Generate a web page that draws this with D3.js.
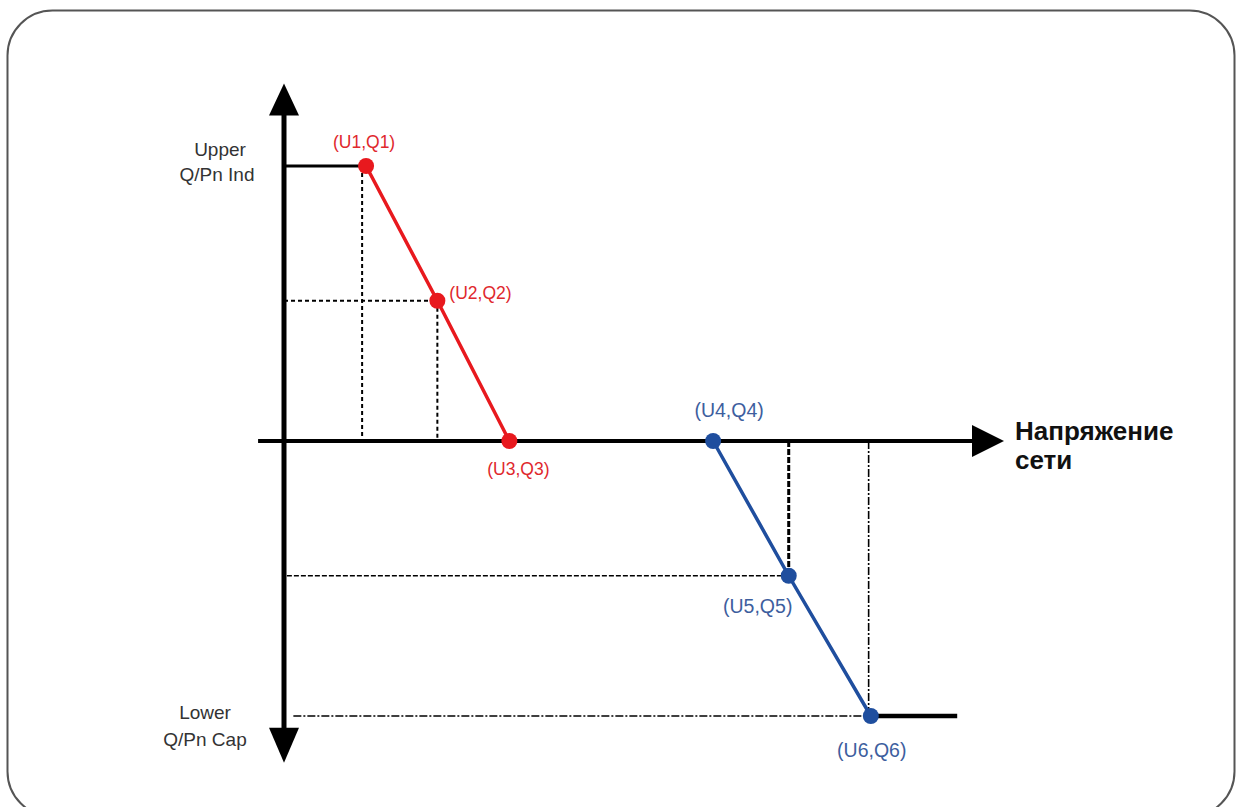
<!DOCTYPE html>
<html>
<head>
<meta charset="utf-8">
<script src="https://cdn.jsdelivr.net/npm/d3@7"></script>
<style>
  body { margin: 0; background: #fff; }
  svg { display: block; font-family: "Liberation Sans", Arial, sans-serif; }
</style>
</head>
<body>
<script>
'use strict';

// curve points: U in % of axis length, Q as fraction of Q/Pn limit
const redLabels = ['(U1,Q1)', '(U2,Q2)', '(U3,Q3)']
const redU = [11.4, 21.3, 31.3]
const redQ = [1, 0.51, 0]

const blueLabels = ['(U4,Q4)', '(U5,Q5)', '(U6,Q6)']
const blueU = [59.6, 70.1, 81.5]
const blueQ = [0, -0.49, -1]

const yLabelsTop = ['Upper', 'Q/Pn Ind']
const yLabelsBottom = ['Lower', 'Q/Pn Cap']
const xTitle = ['Напряжение', 'сети']

// axis extents in data units
const xAxisExtent = [-3.6, 100]
const yAxisExtent = [-1.17, 1.3]
const lowerLineEnd = 93.5

const m = { width: 1245, height: 807 }

const svg = d3.select('body')
  .append('svg')
  .attr('width', m.width)
  .attr('height', m.height)

// rounded frame
svg.append('rect')
  .attr('x', 7.5).attr('y', 10.5)
  .attr('width', 1227).attr('height', 806)
  .attr('rx', 45).attr('ry', 45)
  .style('fill', 'none')
  .style('stroke', '#555')
  .style('stroke-width', 2)

const x = d3.scaleLinear().domain([0, 100]).range([284, 1004])
const y = d3.scaleLinear().domain([-1, 1]).range([716, 166])

const red = '#e8191e'
const blue = '#1f4e9e'

const redPts = redU.map((u, i) => ({ u: u, q: redQ[i], label: redLabels[i] }))
const bluePts = blueU.map((u, i) => ({ u: u, q: blueQ[i], label: blueLabels[i] }))

// helper lines (dashed)
function seg(x1, y1, x2, y2, width, dash) {
  svg.append('line')
    .attr('x1', x(x1)).attr('y1', y(y1))
    .attr('x2', x(x2)).attr('y2', y(y2))
    .style('stroke', '#000')
    .style('stroke-width', width)
    .style('stroke-dasharray', dash)
}

seg(redU[0] - 0.55, redQ[0], redU[0] - 0.55, 0, 2, '4,3')
seg(0, redQ[1], redU[1], redQ[1], 2, '4,3')
seg(redU[1], redQ[1], redU[1], 0, 2, '4,3')
seg(blueU[1], 0, blueU[1], blueQ[1], 3, '6,2')
seg(0.4, blueQ[1], blueU[1], blueQ[1], 1.3, '5,2')
seg(blueU[2] - 0.3, 0, blueU[2] - 0.3, blueQ[2], 1.6, '8,2,2,2')
seg(1.3, blueQ[2], blueU[2], blueQ[2], 1.6, '8,2,2,2')

// horizontal limit lines
seg(0, redQ[0], redU[0], redQ[0], 3, null)
seg(blueU[2], blueQ[2], lowerLineEnd, blueQ[2], 4.5, null)

// axes
seg(xAxisExtent[0], 0, xAxisExtent[1] - 4, 0, 4, null)
svg.append('line')
  .attr('x1', x(0)).attr('y1', y(yAxisExtent[1]) + 30)
  .attr('x2', x(0)).attr('y2', y(yAxisExtent[0]) - 30)
  .style('stroke', '#000').style('stroke-width', 5)

const ax = x(0)
const yTop = y(yAxisExtent[1])
const yBot = y(yAxisExtent[0])
const xEnd = x(xAxisExtent[1])
const y0 = y(0)
svg.append('path')
  .attr('d', `M${ax},${yTop} L${ax - 15},${yTop + 32} L${ax + 15},${yTop + 32} Z`)
  .style('fill', '#000')
svg.append('path')
  .attr('d', `M${ax},${yBot} L${ax - 15},${yBot - 35} L${ax + 15},${yBot - 35} Z`)
  .style('fill', '#000')
svg.append('path')
  .attr('d', `M${xEnd},${y0} L${xEnd - 32},${y0 - 16} L${xEnd - 32},${y0 + 16} Z`)
  .style('fill', '#000')

// curves
const line = d3.line().x((d) => x(d.u)).y((d) => y(d.q))

function drawCurve(pts, color) {
  svg.append('path')
    .datum(pts)
    .attr('d', line)
    .style('fill', 'none')
    .style('stroke', color)
    .style('stroke-width', 3.5)
  svg.selectAll(null)
    .data(pts)
    .enter()
    .append('circle')
      .attr('cx', (d) => x(d.u))
      .attr('cy', (d) => y(d.q))
      .attr('r', 8)
      .style('fill', color)
}
drawCurve(redPts, red)
drawCurve(bluePts, blue)

// point labels (offsets in px from the point)
const redOffsets = [[-2, -18, 'middle'], [12, -2, 'start'], [9, 34, 'middle']]
const blueOffsets = [[16, -24, 'middle'], [-31, 37, 'middle'], [1, 41, 'middle']]

function drawLabels(pts, offsets, color, size) {
  svg.selectAll(null)
    .data(pts)
    .enter()
    .append('text')
      .attr('x', (d, i) => x(d.u) + offsets[i][0])
      .attr('y', (d, i) => y(d.q) + offsets[i][1])
      .attr('text-anchor', (d, i) => offsets[i][2])
      .style('font-size', size)
      .style('fill', color)
      .text((d) => d.label)
}
drawLabels(redPts, redOffsets, '#e0282d', '17.5px')
drawLabels(bluePts, blueOffsets, '#3d5e9e', '19.5px')

// y-axis labels
svg.selectAll(null)
  .data(yLabelsTop)
  .enter()
  .append('text')
    .attr('x', (d, i) => i == 0 ? 220 : 217)
    .attr('y', (d, i) => 156 + i * 25)
    .attr('text-anchor', 'middle')
    .style('font-size', '19px')
    .style('fill', '#333')
    .text((d) => d)

svg.selectAll(null)
  .data(yLabelsBottom)
  .enter()
  .append('text')
    .attr('x', 205)
    .attr('y', (d, i) => 719 + i * 27)
    .attr('text-anchor', 'middle')
    .style('font-size', '19px')
    .style('fill', '#333')
    .text((d) => d)

// x-axis title
svg.selectAll(null)
  .data(xTitle)
  .enter()
  .append('text')
    .attr('x', 1015)
    .attr('y', (d, i) => 440 + i * 29)
    .style('font-size', '26px')
    .style('font-weight', 'bold')
    .style('fill', '#111')
    .text((d) => d)
</script>
</body>
</html>
